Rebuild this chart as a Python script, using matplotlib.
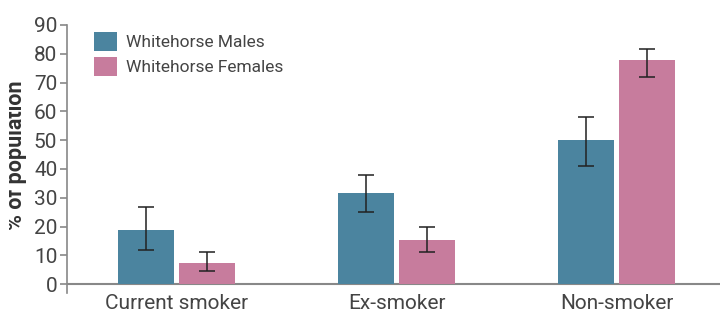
import matplotlib
matplotlib.use('Agg')
import matplotlib.pyplot as plt
from matplotlib.patches import Rectangle
import numpy as np

plt.rcParams['font.family'] = ['Roboto', 'DejaVu Sans']

categories = ['Current smoker', 'Ex-smoker', 'Non-smoker']
series = ['Whitehorse Males', 'Whitehorse Females']
males = [18.8, 31.6, 50.0]
males_lo = [12.0, 25.0, 41.0]
males_hi = [26.9, 37.9, 58.1]
females = [7.4, 15.3, 77.8]
females_lo = [4.6, 11.1, 72.0]
females_hi = [11.2, 19.8, 81.7]
colors = ['#4b849f', '#c77c9d']

W, H = 723, 309
fig = plt.figure(figsize=(W / 100, H / 100), dpi=100)
ax = fig.add_axes([67 / W, (H - 293) / H, (720 - 67) / W, (293 - 25) / H])

x = np.arange(len(categories))
bw = 0.2545
off = 0.1386
for vals, lo, hi, c, lab, sgn in [(males, males_lo, males_hi, colors[0], series[0], -1),
                                  (females, females_lo, females_hi, colors[1], series[1], 1)]:
    vals = np.array(vals)
    err = [vals - np.array(lo), np.array(hi) - vals]
    ax.bar(x + sgn * off, vals, bw, color=c, label=lab, zorder=2)
    ax.errorbar(x + sgn * off, vals, yerr=err, fmt='none', ecolor='#222222',
                elinewidth=1.3, capsize=6, capthick=1.3, zorder=3, alpha=0.85)

ax.set_xlim(-0.498, 2.47)
ax.set_ylim(-3.1, 90)
ax.set_yticks(range(0, 91, 10))
ax.set_xticks(x)
ax.set_xticklabels(categories)
ax.axhline(0, color='#888888', lw=1.5, zorder=1)
for s in ['top', 'right', 'bottom']:
    ax.spines[s].set_visible(False)
ax.spines['left'].set_color('#888888')
ax.spines['left'].set_linewidth(1.2)
ax.tick_params(axis='y', colors='#888888', length=5, width=1.2, labelsize=15,
               labelcolor='#444444', pad=2)
ax.tick_params(axis='x', length=0, labelsize=15, labelcolor='#444444', pad=1)

# y label, its top edge is clipped in the original
fig.text(16 / W, 1 - 155 / H, '% of population', rotation=90, ha='center', va='center',
         fontsize=15.5, fontweight='bold', color='#333333')
fig.patches.append(Rectangle((0, 0), 9 / W, 1, transform=fig.transFigure,
                             facecolor='white', edgecolor='none', zorder=10))

leg = ax.legend(loc='upper left', bbox_to_anchor=(27 / 653, 1 - 7 / 268), frameon=False,
                fontsize=12.5, handlelength=1.35, handleheight=1.3, labelspacing=0.35,
                handletextpad=0.5, borderaxespad=0, borderpad=0)
for t in leg.get_texts():
    t.set_color('#444444')

fig.savefig('out.png', dpi=100)
